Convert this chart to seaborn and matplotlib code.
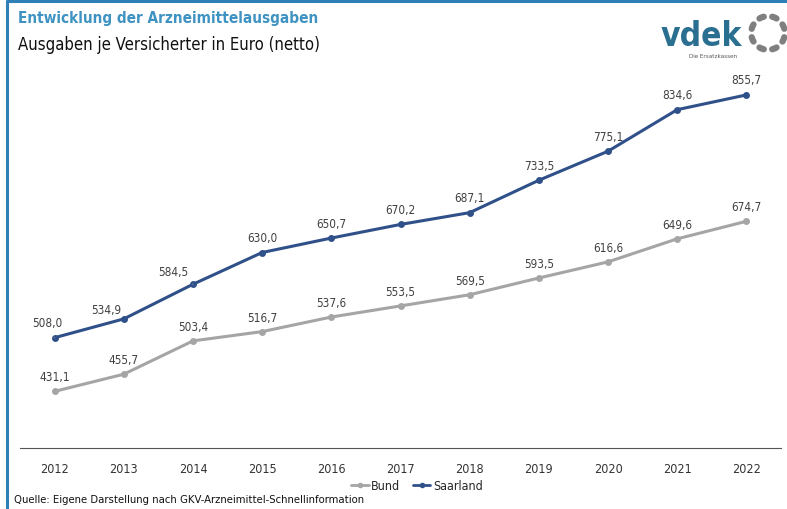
import matplotlib.pyplot as plt
import numpy as np
import pandas as pd
import seaborn as sns
from matplotlib.lines import Line2D

# Daten
years = [2012, 2013, 2014, 2015, 2016, 2017, 2018, 2019, 2020, 2021, 2022]
bund = [431.1, 455.7, 503.4, 516.7, 537.6, 553.5, 569.5, 593.5, 616.6, 649.6, 674.7]
saarland = [508.0, 534.9, 584.5, 630.0, 650.7, 670.2, 687.1, 733.5, 775.1, 834.6, 855.7]

df = pd.DataFrame({'Jahr': years * 2,
                   'Wert': bund + saarland,
                   'Region': ['Bund'] * len(years) + ['Saarland'] * len(years)})

sns.set_style('white')
plt.rcParams['font.family'] = ['DejaVu Sans']
plt.rcParams['font.stretch'] = 'condensed'

farben = {'Bund': '#a5a5a5', 'Saarland': '#2f5089'}

fig = plt.figure(figsize=(7.87, 5.10), dpi=100)
ax = fig.add_axes([20 / 787, 61 / 510, 761 / 787, 384 / 510])

sns.lineplot(data=df, x='Jahr', y='Wert', hue='Region', palette=farben,
             marker='o', markersize=5, markeredgewidth=0, linewidth=2.2,
             ax=ax, legend=False)

ax.set_xlim(2011.5, 2022.5)
ax.set_ylim(350, 900)
ax.set_xticks(years)
ax.set_xticklabels([str(j) for j in years], fontsize=9, color='#333333')
ax.set_xticks(np.arange(2011.5, 2023, 1), minor=True)
ax.tick_params(axis='x', which='major', length=0, pad=10)
ax.tick_params(axis='x', which='minor', length=5, width=1, color='#555555', direction='out')
ax.set_yticks([])
ax.set_xlabel('')
ax.set_ylabel('')
for s in ['top', 'right', 'left']:
    ax.spines[s].set_visible(False)
ax.spines['bottom'].set_color('#555555')

# Beschriftungen der Punkte (Versatz in Pixeln)
versatz_s = {0: (-7, 15), 1: (-18, 9), 2: (-20, 13)}
for i, (j, v) in enumerate(zip(years, saarland)):
    dx, dy = versatz_s.get(i, (0, 15))
    txt = f'{v:.1f}'.replace('.', ',')
    pfeil = dict(arrowstyle='-', color='#999999', lw=0.7, shrinkA=4, shrinkB=2) if i in (0, 2) else None
    ax.annotate(txt, (j, v), xytext=(dx * 0.72, dy * 0.72), textcoords='offset points',
                ha='center', va='center', fontsize=8.5, color='#404040', arrowprops=pfeil)
for j, v in zip(years, bund):
    txt = f'{v:.1f}'.replace('.', ',')
    ax.annotate(txt, (j, v), xytext=(0, 14.5 * 0.72), textcoords='offset points',
                ha='center', va='center', fontsize=8.5, color='#404040')

# Legende
handles = [Line2D([], [], color=farben[k], marker='o', markersize=4, lw=2, markeredgewidth=0)
           for k in ['Bund', 'Saarland']]
fig.legend(handles, ['Bund', 'Saarland'], loc='center', bbox_to_anchor=(417 / 787, 1 - 487 / 510),
           ncol=2, frameon=False, fontsize=9, handlelength=1.4, handletextpad=0.2, columnspacing=1.0)

# Titel
fig.text(18 / 787, 1 - 18 / 510, 'Entwicklung der Arzneimittelausgaben', fontsize=11,
         fontweight='bold', color='#3f93c2', va='center')
fig.text(18 / 787, 1 - 45 / 510, 'Ausgaben je Versicherter in Euro (netto)', fontsize=12,
         color='#111111', va='center')
fig.text(14 / 787, 1 - 500 / 510, 'Quelle: Eigene Darstellung nach GKV-Arzneimittel-Schnellinformation',
         fontsize=8.1, color='#111111', va='center')

# Rahmen
fig.add_artist(Line2D([7 / 787, 7 / 787], [0, 1 - 2 / 510], color='#2e7fb5', lw=2.2))
fig.add_artist(Line2D([7 / 787, 1], [1 - 2 / 510, 1 - 2 / 510], color='#2e7fb5', lw=2.2))

# Logo
fig.text(701 / 787, 1 - 37 / 510, 'vdek', fontsize=24, fontweight='bold', color='#2a6e90',
         ha='center', va='center')
fig.text(713 / 787, 1 - 57 / 510, 'Die Ersatzkassen', fontsize=4.5, color='#555555',
         ha='center', va='center')
lax = fig.add_axes([747 / 787, 1 - 55 / 510, 42 / 787, 42 / 510])
lax.set_aspect('equal')
lax.axis('off')
for w in np.arange(0, 360, 45) + 22.5:
    t = np.deg2rad(np.linspace(w - 8, w + 8, 10))
    lax.plot(np.cos(t), np.sin(t), color='#7f7f7f', lw=4.5, solid_capstyle='round')
lax.set_xlim(-1.25, 1.25)
lax.set_ylim(-1.25, 1.25)

fig.savefig('out.png', dpi=100)
